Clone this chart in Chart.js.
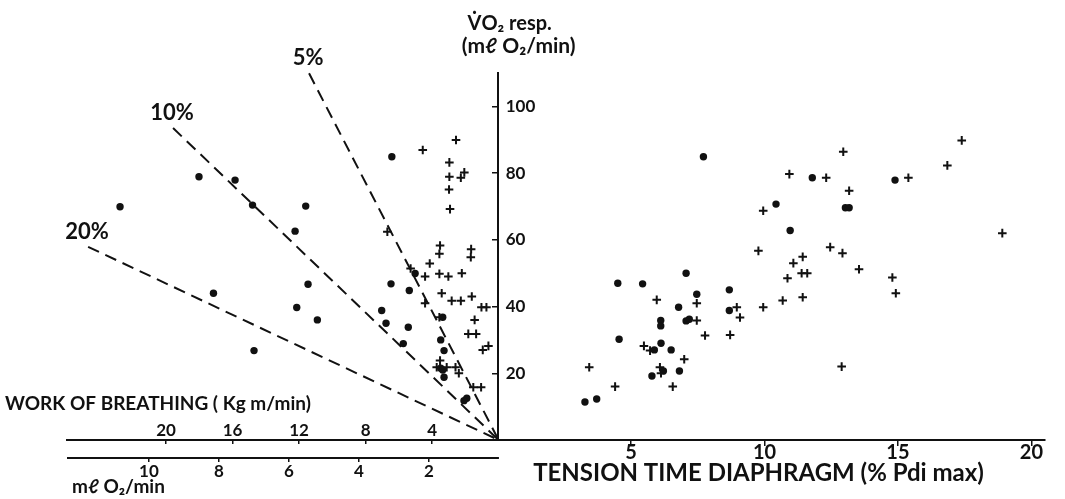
<!DOCTYPE html>
<html>
<head>
<meta charset="utf-8">
<script src="https://cdn.jsdelivr.net/npm/chart.js@4.4.1/dist/chart.umd.min.js"></script>
<style>
  html, body { margin: 0; padding: 0; background: #fff; }
</style>
</head>
<body>
<canvas id="fig" width="1065" height="499"></canvas>
<script>
// Left half: work of breathing (Kg m/min) against VO2 resp (ml O2/min)
const workDotX = [22.77, 18.02, 15.85, 14.80, 17.15, 14.71, 6.42, 11.60, 12.24, 11.46, 6.47, 5.37, 5.02, 12.14,
  10.90, 7.03, 6.77, 5.43, 3.36, 5.73, 3.48, 3.28, 3.48, 3.36, 3.28, 1.91, 2.08];
const workDotY = [69.9, 78.9, 77.9, 70.4, 44.0, 26.8, 84.9, 70.1, 62.6, 46.7, 46.8, 44.8, 49.9, 39.7,
  36.0, 38.8, 35.0, 33.8, 36.8, 28.9, 30.0, 26.8, 21.5, 21.0, 18.8, 12.5, 11.8];
const workPlusX = [4.56, 2.56, 2.96, 2.96, 2.06, 2.27, 2.98, 2.92, 6.69, 3.52, 3.56, 1.65, 1.67, 4.14, 5.29,
  4.42, 3.56, 3.02, 2.21, 3.42, 2.82, 2.27, 1.61, 4.42, 1.03, 0.73, 3.56, 1.44, 1.82, 1.35, 0.61, 0.95,
  3.52, 3.72, 3.12, 2.59, 2.39, 1.52, 1.05];
const workPlusY = [86.9, 89.9, 83.2, 78.9, 80.2, 78.6, 75.1, 69.2, 62.4, 58.3, 55.8, 57.2, 54.8, 52.9, 51.4,
  49.0, 49.8, 49.0, 50.0, 44.0, 41.7, 41.7, 43.0, 41.0, 39.8, 39.8, 36.8, 36.0, 31.8, 31.8, 28.2, 27.0,
  23.8, 21.8, 21.8, 21.8, 20.0, 15.8, 15.8];

// Right half: tension time diaphragm (% Pdi max) against VO2 resp
const ttdiDotX = [5.33, 7.71, 10.43, 10.96, 11.79, 13.03, 13.17, 14.89, 4.50, 5.43, 7.06, 7.46, 8.68, 6.78,
  8.68, 6.11, 6.11, 7.06, 7.18, 4.55, 5.87, 6.12, 6.50, 6.21, 5.78, 6.81, 3.27, 3.71];
const ttdiDotY = [119.9, 84.9, 70.7, 62.8, 78.6, 69.6, 69.6, 77.9, 47.0, 46.8, 50.0, 43.7, 45.0, 39.8,
  38.8, 35.8, 34.2, 35.7, 36.2, 30.2, 27.0, 29.0, 27.0, 20.7, 19.2, 20.7, 11.4, 12.3];
const ttdiPlusX = [5.96, 7.46, 8.96, 7.46, 9.08, 7.77, 8.71, 5.48, 5.71, 6.99, 3.43, 6.08, 6.12, 4.40, 6.56,
  9.77, 9.95, 9.95, 10.68, 10.86, 10.93, 11.08, 11.39, 11.60, 11.43, 11.43, 12.31, 12.46, 12.92, 12.95,
  13.17, 13.54, 12.89, 14.79, 14.92, 15.39, 16.85, 17.39, 18.91];
const ttdiPlusY = [42.0, 41.0, 39.8, 35.8, 36.7, 31.3, 31.5, 28.2, 26.8, 24.2, 21.8, 21.8, 20.0, 16.0, 16.0,
  56.7, 68.7, 39.8, 41.8, 48.5, 79.7, 53.0, 50.0, 50.0, 54.9, 42.8, 78.6, 57.8, 56.0, 86.4,
  74.7, 51.2, 22.0, 48.7, 44.0, 78.6, 82.3, 89.8, 62.0];

// Efficiency lines: each runs from the origin to this far end (Kg m/min, VO2)
const effLabels = ['5%', '10%', '20%'];
const effWork = [11.40, 19.58, 24.69];
const effVO2 = [109.9, 93.5, 57.9];

const vo2Ticks = [20, 40, 60, 80, 100];
const ttdiTicks = [5, 10, 15, 20];
const workTicks = [4, 8, 12, 16, 20];
const o2Ticks = [2, 4, 6, 8, 10];

const ink = '#111';
const family = "Lato, 'DejaVu Sans', sans-serif";
const weight = 'bold';
const font = size => weight + ' ' + size + 'px ' + family;
const o2AxisAt = -5.4;  // VO2 value where the ml O2/min scale line sits, below the main baseline

const pts = (xs, ys) => xs.map((x, i) => ({ x: x, y: ys[i] }));
const fixTicks = list => scale => { scale.ticks = list.map(v => ({ value: v })); };

const dotStyle = { pointStyle: 'circle', pointRadius: 3.7, backgroundColor: ink, borderWidth: 0, clip: false };
const plusStyle = { pointStyle: 'cross', pointRadius: 4.3, borderColor: ink, borderWidth: 2, clip: false };

const datasets = [
  Object.assign({ data: pts(workDotX, workDotY), xAxisID: 'xw', yAxisID: 'y' }, dotStyle),
  Object.assign({ data: pts(workPlusX, workPlusY), xAxisID: 'xw', yAxisID: 'y' }, plusStyle),
  Object.assign({ data: pts(ttdiDotX, ttdiDotY), xAxisID: 'xr', yAxisID: 'y' }, dotStyle),
  Object.assign({ data: pts(ttdiPlusX, ttdiPlusY), xAxisID: 'xr', yAxisID: 'y' }, plusStyle)
];
effLabels.forEach((lab, i) => {
  datasets.push({
    label: lab,
    data: [{ x: effWork[i], y: effVO2[i] }, { x: 0, y: 0 }],
    xAxisID: 'xw', yAxisID: 'y',
    showLine: true, borderColor: ink, borderWidth: 2, borderDash: [12, 7],
    pointRadius: 0, clip: false
  });
});

// texts and the short lower scale line that Chart.js axes cannot place by themselves
const figureText = {
  id: 'figureText',
  afterDraw(chart) {
    const { ctx, chartArea } = chart;
    const { xr, xw, xo, y } = chart.scales;
    const ox = xr.getPixelForValue(0);
    ctx.save();
    ctx.fillStyle = ink;
    ctx.strokeStyle = ink;

    const oy = y.getPixelForValue(o2AxisAt);
    ctx.lineWidth = 2;
    ctx.beginPath();
    ctx.moveTo(chartArea.left, oy);
    ctx.lineTo(xo.getPixelForValue(0), oy);
    ctx.stroke();

    ctx.textBaseline = 'middle';
    ctx.textAlign = 'left';
    ctx.font = font(17);
    y.ticks.forEach(t => ctx.fillText(String(t.value), ox + 8, y.getPixelForValue(t.value)));

    ctx.textAlign = 'center';
    ctx.font = font(22);
    effLabels.forEach((lab, i) => {
      ctx.fillText(lab, xw.getPixelForValue(effWork[i]) - 1, y.getPixelForValue(effVO2[i]) - 15);
    });

    ctx.font = font(20);
    ctx.fillText('V\u0307O\u2082 resp.', ox + 12, 24);
    ctx.font = font(21);
    ctx.fillText('(m\u2113 O\u2082/min)', ox + 21, 46);

    ctx.font = font(24);
    ctx.fillText('TENSION TIME DIAPHRAGM (% Pdi max)', xr.getPixelForValue(10) - 6, 473);

    ctx.textAlign = 'left';
    ctx.font = font(19);
    ctx.fillText('WORK OF BREATHING ( Kg m/min)', 5, 404);
    ctx.font = font(19);
    ctx.fillText('m\u2113 O\u2082/min', 72, 487);
    ctx.restore();
  }
};

const gridTicks = len => ({ drawOnChartArea: false, drawTicks: true, tickLength: len, color: ink, lineWidth: 1.5 });
const tickFont = size => ({ family: family, size: size, weight: weight });

new Chart(document.getElementById('fig'), {
  type: 'scatter',
  data: { datasets: datasets },
  options: {
    responsive: false,
    animation: false,
    devicePixelRatio: 1,
    events: [],
    layout: { padding: { left: 67, right: 20, top: 73, bottom: 59 } },
    plugins: { legend: { display: false }, tooltip: { enabled: false } },
    scales: {
      y: {
        type: 'linear', min: 0, max: 110, position: { xr: 0 },
        border: { display: true, color: ink, width: 2 },
        grid: gridTicks(5),
        ticks: { display: false },
        afterBuildTicks: fixTicks(vo2Ticks)
      },
      xr: {
        axis: 'x', type: 'linear', min: -16.14, max: 20.51, position: { y: 0 },
        border: { display: true, color: ink, width: 2 },
        grid: gridTicks(5),
        ticks: { color: ink, font: tickFont(20), padding: -4.5, maxRotation: 0 },
        afterBuildTicks: fixTicks(ttdiTicks)
      },
      xw: {
        axis: 'x', type: 'linear', reverse: true, min: -32.87, max: 25.96, position: { y: 0 },
        border: { display: false },
        grid: gridTicks(4),
        ticks: { color: ink, font: tickFont(17), padding: -23.2, maxRotation: 0 },
        afterBuildTicks: fixTicks(workTicks)
      },
      xo: {
        axis: 'x', type: 'linear', reverse: true, min: -15.6, max: 12.34, position: { y: o2AxisAt },
        border: { display: false },
        grid: gridTicks(4),
        ticks: { color: ink, font: tickFont(17), padding: -0.7, maxRotation: 0 },
        afterBuildTicks: fixTicks(o2Ticks)
      }
    }
  },
  plugins: [figureText]
});
</script>
</body>
</html>
